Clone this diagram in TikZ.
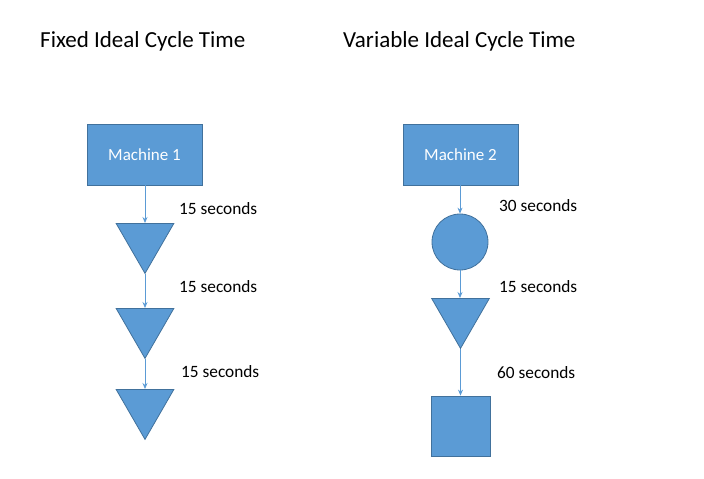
\documentclass[tikz,border=0pt]{standalone}
\usepackage{fontspec}
\setmainfont{Carlito}
\usetikzlibrary{shapes.geometric,arrows.meta}
\definecolor{ofill}{HTML}{5B9BD5}
\definecolor{oline}{HTML}{41719C}
\tikzset{
  box/.style={draw=oline, fill=ofill, line width=0.8pt, minimum width=115pt, minimum height=61pt, inner sep=0pt, text=white, font=\fontsize{17}{20}\selectfont},
  tri/.style={draw=oline, fill=ofill, line width=0.8pt, isosceles triangle, isosceles triangle apex angle=60, shape border rotate=-90, minimum height=50pt, inner sep=0pt},
  circ/.style={draw=oline, fill=ofill, line width=0.8pt, circle, minimum size=56pt, inner sep=0pt},
  sq/.style={draw=oline, fill=ofill, line width=0.8pt, minimum width=59pt, minimum height=60pt, inner sep=0pt},
  conn/.style={draw=ofill, line width=0.8pt, -{Stealth[length=6pt,width=5pt]}},
  lbl/.style={anchor=west, inner sep=0pt, font=\fontsize{17.3}{20}\selectfont},
  ttl/.style={anchor=west, inner sep=0pt, font=\fontsize{23}{27}\selectfont}
}
\begin{document}
\begin{tikzpicture}[x=1pt,y=-1pt]
\useasboundingbox (0,0) rectangle (704,479);
\node[ttl] (t1) at (40,41) {Fixed Ideal Cycle Time};
\node[ttl] (t2) at (343,41) {Variable Ideal Cycle Time};
% left column
\node[box] (m1) at (144.5,154.5) {Machine 1};
\node[tri, anchor=north] (a1) at (145,223) {};
\node[tri, anchor=north] (a2) at (145,308) {};
\node[tri, anchor=north] (a3) at (145,389) {};
\draw[conn] (m1.south -| a1.apex) -- (a1.north);
\draw[conn] (a1.apex) -- (a2.north);
\draw[conn] (a2.apex) -- (a3.north);
\node[lbl] (l1) at (179,209) {15 seconds};
\node[lbl] (l2) at (179,287) {15 seconds};
\node[lbl] (l3) at (181,372) {15 seconds};
% right column
\node[box] (m2) at (460.5,154.5) {Machine 2};
\node[circ] (c1) at (460,242) {};
\node[tri, anchor=north] (b1) at (460.5,298) {};
\node[sq] (s1) at (460.5,426) {};
\draw[conn] (m2.south -| c1.north) -- (c1.north);
\draw[conn] (c1.south) -- (c1.south |- b1.north);
\draw[conn] (b1.apex) -- (b1.apex |- s1.north);
\node[lbl] (r1) at (499,206) {30 seconds};
\node[lbl] (r2) at (499,287) {15 seconds};
\node[lbl] (r3) at (497,373) {60 seconds};
\end{tikzpicture}
\end{document}
